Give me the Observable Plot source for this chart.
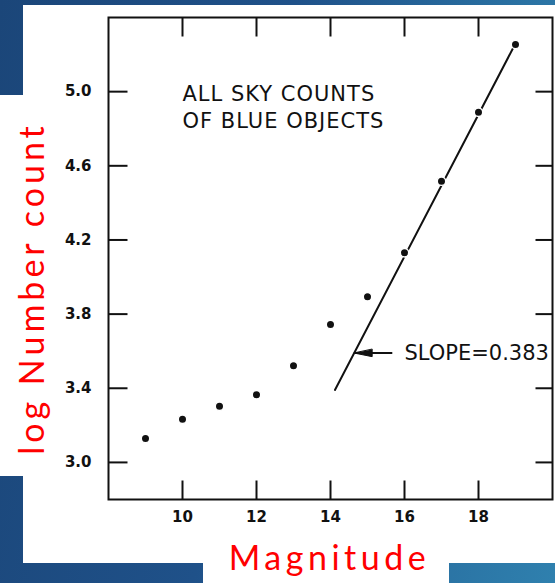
<!DOCTYPE html>
<html>
<head>
<meta charset="utf-8">
<script src="https://cdn.jsdelivr.net/npm/d3@7"></script>
<script src="https://cdn.jsdelivr.net/npm/@observablehq/plot@0.6"></script>
<style>
  html, body { margin: 0; padding: 0; }
  #stage {
    position: relative; width: 555px; height: 583px; overflow: hidden;
    background: linear-gradient(100deg, #1b4679 0%, #1f5189 45%, #2a72a3 80%, #2f80ae 100%);
  }
  .panel { position: absolute; background: #ffffff; }
  #chart { position: absolute; left: 0; top: 0; }
</style>
</head>
<body>
<div id="stage">
  <div class="panel" style="left:23px;top:5px;width:532px;height:558px"></div>
  <div class="panel" style="left:0;top:95px;width:23px;height:381px"></div>
  <div class="panel" style="left:203px;top:563px;width:246px;height:20px"></div>
  <div id="chart"></div>
</div>
<script>
// Blue-object counts over the whole sky, by apparent magnitude
const magnitudes = [9, 10, 11, 12, 13, 14, 15, 16, 17, 18, 19];
const logCounts = [3.129, 3.233, 3.303, 3.365, 3.521, 3.744, 3.893, 4.131, 4.517, 4.889, 5.254];

// Axis extents and ticks
const xDomain = [8, 20];
const yDomain = [2.8, 5.4];
const xTicks = [10, 12, 14, 16, 18];
const yTicks = [3.0, 3.4, 3.8, 4.2, 4.6, 5.0];

// Straight-line fit through the faint end
const fitSlope = 0.383;
const fitPivot = [16.535, 4.316];
const fitRange = [14.12, 18.95];

// Annotations
const titleLines = ["ALL SKY COUNTS", "OF BLUE OBJECTS"];
const titleAt = [10, 4.925];
const slopeText = "SLOPE=" + fitSlope;
const slopeAt = [16, 3.59];
const arrowTail = 15.67;
const xLabel = "Magnitude";
const yLabel = "log Number count";

const points = magnitudes.map((m, i) => ({m, v: logCounts[i]}));
const fitAt = m => fitPivot[1] + fitSlope * (m - fitPivot[0]);
const fitLine = fitRange.map(m => ({m, v: fitAt(m)}));
const arrowTip = fitPivot[0] + (slopeAt[1] - fitPivot[1]) / fitSlope;

// frame geometry
const W = 555, H = 583;
const margin = {left: 108, right: 3, top: 17, bottom: 84};
const frameW = W - margin.left - margin.right;
const frameH = H - margin.top - margin.bottom;

// inward tick marks, as short two-point paths measured in data units
const xPerPx = (xDomain[1] - xDomain[0]) / frameW;
const yPerPx = (yDomain[1] - yDomain[0]) / frameH;
const tickLen = 19, rightTickLen = 17;
const tickSegments = [
  ...xTicks.map(x => [[x, yDomain[0]], [x, yDomain[0] + tickLen * yPerPx]]),
  ...xTicks.map(x => [[x, yDomain[1]], [x, yDomain[1] - tickLen * yPerPx]]),
  ...yTicks.map(y => [[xDomain[0], y], [xDomain[0] + tickLen * xPerPx, y]]),
  ...yTicks.map(y => [[xDomain[1], y], [xDomain[1] - rightTickLen * xPerPx, y]])
];
const tickPoints = tickSegments.flatMap((seg, id) => seg.map(([x, y]) => ({id, x, y})));

// a narrow filled arrowhead
const arrowHead = {
  draw(ctx, l) {
    ctx.moveTo(0, -l);
    ctx.lineTo(-3.6, 0);
    ctx.lineTo(3.6, 0);
    ctx.closePath();
  }
};

const tickFont = "DejaVu Sans, Liberation Sans, sans-serif";
const redFont = "Lato, Noto Sans, sans-serif";
const ink = "#111";

const chart = Plot.plot({
  width: W,
  height: H,
  marginLeft: margin.left,
  marginRight: margin.right,
  marginTop: margin.top,
  marginBottom: margin.bottom,
  style: {background: "transparent", overflow: "visible", fontFamily: tickFont, color: ink},
  x: {domain: xDomain, axis: null},
  y: {domain: yDomain, axis: null},
  marks: [
    Plot.frame({stroke: ink, strokeWidth: 2, fill: "none"}),
    // tick labels
    Plot.axisX(xTicks, {anchor: "bottom", tickSize: 0, tickPadding: 12, label: null,
      fontSize: 15, fontWeight: "bold", fontFamily: tickFont}),
    Plot.axisY(yTicks, {anchor: "left", tickSize: 0, tickPadding: 17, label: null,
      tickFormat: d3.format(".1f"), fontSize: 15, fontWeight: "bold", fontFamily: tickFont}),
    // fitted line
    Plot.line(fitLine, {x: "m", y: "v", stroke: ink, strokeWidth: 2}),
    // counts
    Plot.dot(points, {x: "m", y: "v", r: 4.2, fill: ink, stroke: "#fff", strokeWidth: 1.4}),
    // annotation text
    Plot.text([titleLines.join("\n")], {x: () => titleAt[0], y: () => titleAt[1], textAnchor: "start",
      lineAnchor: "middle", lineHeight: 1.32, fontSize: 21, fontFamily: tickFont, fill: ink}),
    Plot.text([slopeText], {x: () => slopeAt[0], y: () => slopeAt[1], textAnchor: "start",
      lineAnchor: "middle", fontSize: 21, fontFamily: tickFont, fill: ink}),
    // arrow pointing at the fit
    Plot.link([{x1: arrowTail, x2: arrowTip, y: slopeAt[1]}], {x1: "x1", x2: "x2", y1: "y", y2: "y",
      stroke: ink, strokeWidth: 2}),
    Plot.vector([{x: arrowTip, y: slopeAt[1]}], {x: "x", y: "y", length: 18, rotate: -90, anchor: "end",
      shape: arrowHead, fill: ink, stroke: ink, strokeWidth: 1}),
    // axis titles
    Plot.text([xLabel], {frameAnchor: "bottom", dx: -1, dy: 70, lineAnchor: "bottom", textAnchor: "middle",
      fontSize: 34, fontFamily: redFont, fill: "#ff0000"}),
    Plot.text([yLabel], {frameAnchor: "left", rotate: -90, dx: -65, dy: 30, lineAnchor: "bottom", textAnchor: "middle",
      fontSize: 34, fontFamily: redFont, fill: "#ff0000"}),
    // inward tick marks on all four sides
    Plot.line(tickPoints, {x: "x", y: "y", z: "id", stroke: ink, strokeWidth: 2, strokeLinecap: "butt"})
  ]
});

// letter spacing for the hand-lettered annotation and the axis titles
const spacing = new Map([[titleLines.join(""), "1px"], [xLabel, "4.5px"], [yLabel, "4px"]]);
d3.select(chart).selectAll("text").each(function () {
  const s = spacing.get(this.textContent);
  if (s) this.style.letterSpacing = s;
});

document.getElementById("chart").appendChild(chart);
</script>
</body>
</html>
